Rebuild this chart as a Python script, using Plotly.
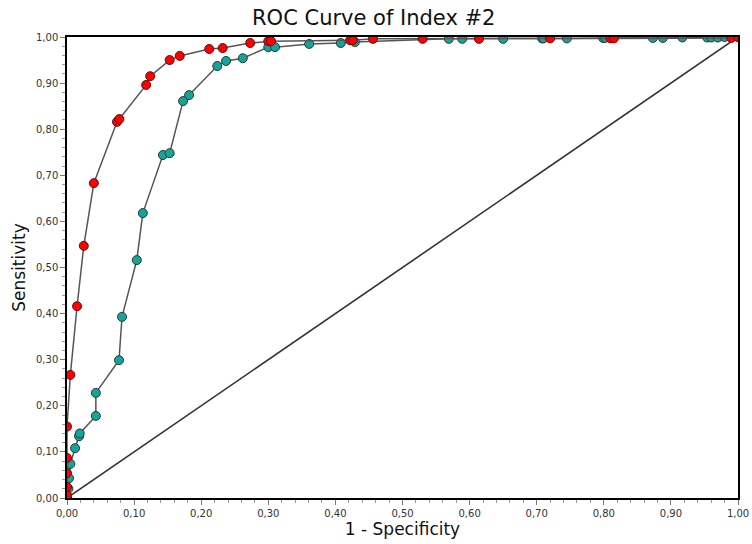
import plotly.graph_objects as go

# Red series (Index #2, curve A)
red_x = [0.0, 0.0, 0.0, 0.0, 0.0, 0.0, 0.005, 0.015, 0.025, 0.04, 0.0745, 0.078, 0.118, 0.124,
         0.153, 0.168, 0.212, 0.232, 0.273, 0.3, 0.304, 0.422, 0.426, 0.456, 0.53, 0.614,
         0.72, 0.81, 0.815, 0.99, 1.0]
red_y = [0.0, 0.006, 0.024, 0.054, 0.087, 0.155, 0.267, 0.416, 0.547, 0.683, 0.816, 0.822, 0.896, 0.915,
         0.950, 0.959, 0.974, 0.976, 0.987, 0.991, 0.991, 0.993, 0.993, 0.996, 0.996, 0.996,
         0.997, 0.997, 0.997, 0.998, 1.0]

# Teal series (curve B)
teal_x = [0.0, 0.002, 0.003, 0.005, 0.012, 0.018, 0.019, 0.043, 0.043, 0.0775, 0.082, 0.104, 0.113,
          0.143, 0.153, 0.173, 0.182, 0.224, 0.237, 0.262, 0.3, 0.31, 0.361, 0.408, 0.429,
          0.569, 0.589, 0.65, 0.708, 0.71, 0.745, 0.799, 0.802, 0.873, 0.888, 0.917,
          0.954, 0.96, 0.97, 0.98, 0.99, 1.0]
teal_y = [0.0, 0.02, 0.043, 0.074, 0.108, 0.134, 0.14, 0.178, 0.228, 0.299, 0.393, 0.516, 0.618,
          0.744, 0.748, 0.861, 0.874, 0.937, 0.948, 0.954, 0.978, 0.978, 0.985, 0.987, 0.989,
          0.996, 0.996, 0.996, 0.997, 0.997, 0.997, 0.998, 0.998, 0.998, 0.998, 0.999,
          0.999, 0.999, 0.999, 1.0, 1.0, 1.0]

diag_x = [0.0, 1.0]
diag_y = [0.0, 1.0]

x_title = "1 - Specificity"
y_title = "Sensitivity"
chart_title = "ROC Curve of Index #2"

fig = go.Figure()
fig.add_trace(go.Scatter(x=diag_x, y=diag_y, mode="lines",
                         line=dict(color="#333333", width=1.6), showlegend=False, hoverinfo="skip"))
fig.add_trace(go.Scatter(x=teal_x, y=teal_y, mode="lines+markers",
                         line=dict(color="#555555", width=1.5),
                         marker=dict(color="#17A398", size=9, symbol="circle",
                                     line=dict(color="#1f3a38", width=1)),
                         showlegend=False))
fig.add_trace(go.Scatter(x=red_x, y=red_y, mode="lines+markers",
                         line=dict(color="#555555", width=1.5),
                         marker=dict(color="#FF0000", size=9, symbol="circle",
                                     line=dict(color="#5a1010", width=1)),
                         showlegend=False))

axis_common = dict(range=[0, 1], dtick=0.1, tick0=0, tickformat=".2f", automargin=False,
                   showgrid=False, zeroline=False, showline=True, linecolor="#000000",
                   linewidth=1.5, mirror=True, ticks="outside", ticklen=5, tickcolor="#777777",
                   tickfont=dict(family="DejaVu Sans", size=10, color="#333333"),
                   minor=dict(dtick=0.02, ticks="outside", ticklen=3, tickcolor="#999999"))

fig.update_layout(
    width=752, height=544,
    paper_bgcolor="white", plot_bgcolor="white",
    separators=",.",
    margin=dict(l=67, r=14, t=37, b=46),
    title=dict(text=chart_title, x=0.497, xanchor="center", y=0.967, yanchor="middle",
               font=dict(family="DejaVu Sans", size=21, color="#111111")),
    xaxis=dict(**axis_common,
               title=dict(text=x_title, standoff=4,
                          font=dict(family="DejaVu Sans", size=17, color="#111111"))),
    yaxis=dict(**axis_common,
               title=dict(text=y_title, standoff=6,
                          font=dict(family="DejaVu Sans", size=17, color="#111111"))),
)

# remove the page's default body margin so the 752x544 figure fills the window exactly
fig.write_html("out.html", config={"displayModeBar": False},
               post_script="document.body.style.margin='0';document.body.style.overflow='hidden';")
